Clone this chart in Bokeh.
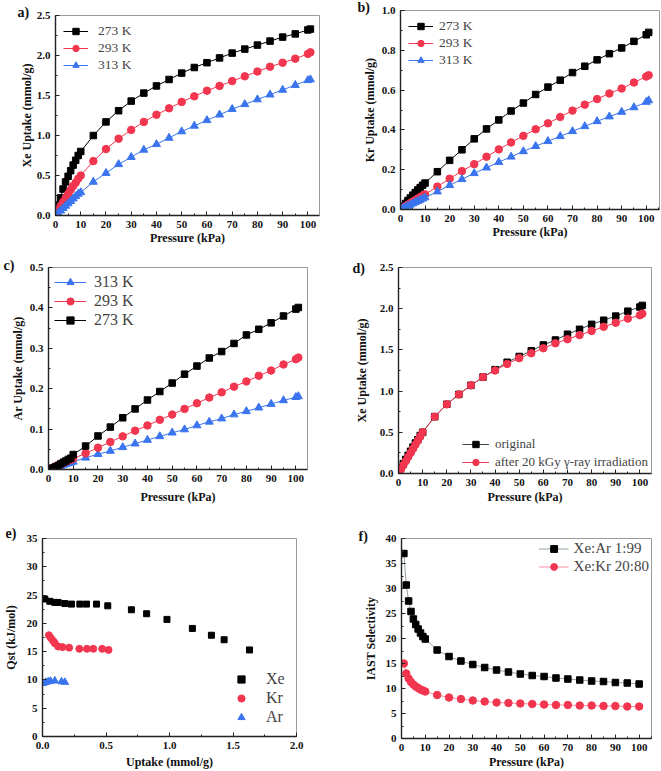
from bokeh.plotting import figure
from bokeh.models import (Range1d, SingleIntervalTicker, NumeralTickFormatter,
                          Legend, LegendItem)
from bokeh.layouts import column, row
from bokeh.embed import file_html
from bokeh.resources import INLINE

# ---------------- data ----------------
P = [0.2, 1, 2, 3, 4, 5, 6, 7, 8, 9, 10, 15, 20, 25, 30, 35, 40, 45, 50,
     55, 60, 65, 70, 75, 80, 85, 90, 95, 100, 101]

xe_273 = [0.05, 0.13, 0.22, 0.33, 0.42, 0.49, 0.56, 0.63, 0.69, 0.75, 0.80, 1.00, 1.17, 1.31,
          1.43, 1.53, 1.62, 1.70, 1.78, 1.85, 1.91, 1.97, 2.03, 2.08, 2.13, 2.18, 2.23, 2.27,
          2.32, 2.33]
xe_293 = [0.02, 0.07, 0.12, 0.17, 0.22, 0.27, 0.32, 0.37, 0.41, 0.46, 0.50, 0.68, 0.83, 0.96,
          1.07, 1.17, 1.26, 1.34, 1.42, 1.49, 1.56, 1.62, 1.68, 1.74, 1.80, 1.86, 1.91, 1.96,
          2.02, 2.04]
xe_313 = [0.01, 0.03, 0.06, 0.09, 0.12, 0.15, 0.18, 0.21, 0.24, 0.27, 0.29, 0.42, 0.53, 0.64,
          0.73, 0.82, 0.89, 0.97, 1.05, 1.12, 1.19, 1.26, 1.33, 1.39, 1.45, 1.51, 1.57, 1.63,
          1.69, 1.70]

kr_273 = [0.003, 0.015, 0.030, 0.045, 0.058, 0.072, 0.085, 0.098, 0.110, 0.122, 0.133, 0.190,
          0.247, 0.300, 0.355, 0.405, 0.450, 0.495, 0.535, 0.578, 0.615, 0.650, 0.688, 0.720,
          0.752, 0.783, 0.812, 0.845, 0.878, 0.890]
kr_293 = [0.002, 0.008, 0.016, 0.024, 0.032, 0.040, 0.047, 0.055, 0.062, 0.069, 0.076, 0.115,
          0.155, 0.193, 0.228, 0.265, 0.302, 0.337, 0.370, 0.403, 0.433, 0.465, 0.497, 0.527,
          0.555, 0.583, 0.608, 0.638, 0.668, 0.675]
kr_313 = [0.001, 0.006, 0.012, 0.018, 0.024, 0.030, 0.036, 0.042, 0.048, 0.054, 0.060, 0.090,
          0.122, 0.152, 0.182, 0.210, 0.238, 0.265, 0.292, 0.318, 0.343, 0.368, 0.393, 0.418,
          0.443, 0.467, 0.490, 0.513, 0.540, 0.548]

ar_273 = [0.001, 0.002, 0.004, 0.007, 0.010, 0.014, 0.018, 0.021, 0.025, 0.028, 0.037, 0.058,
          0.083, 0.105, 0.128, 0.150, 0.172, 0.193, 0.214, 0.236, 0.256, 0.276, 0.292, 0.312,
          0.333, 0.347, 0.363, 0.380, 0.397, 0.401]
ar_293 = [0.001, 0.003, 0.005, 0.008, 0.011, 0.014, 0.016, 0.019, 0.022, 0.024, 0.027, 0.040,
          0.054, 0.068, 0.082, 0.096, 0.109, 0.123, 0.136, 0.150, 0.164, 0.178, 0.191, 0.205,
          0.218, 0.232, 0.245, 0.260, 0.273, 0.277]
ar_313 = [0.000, 0.002, 0.004, 0.006, 0.008, 0.009, 0.011, 0.013, 0.015, 0.017, 0.019, 0.029,
          0.038, 0.046, 0.055, 0.064, 0.073, 0.082, 0.091, 0.099, 0.109, 0.118, 0.126, 0.136,
          0.144, 0.153, 0.162, 0.171, 0.179, 0.181]

xe_original = [0.02, 0.07, 0.12, 0.17, 0.22, 0.27, 0.32, 0.37, 0.41, 0.46, 0.50, 0.69, 0.84,
               0.96, 1.07, 1.17, 1.26, 1.35, 1.42, 1.49, 1.56, 1.62, 1.69, 1.75, 1.81, 1.86,
               1.91, 1.97, 2.02, 2.04]
xe_irradiated = [0.01, 0.05, 0.10, 0.15, 0.20, 0.25, 0.30, 0.35, 0.40, 0.45, 0.50, 0.69, 0.84,
                 0.96, 1.07, 1.17, 1.25, 1.33, 1.40, 1.46, 1.52, 1.58, 1.63, 1.68, 1.73, 1.78,
                 1.83, 1.88, 1.92, 1.94]

qst_xe_uptake = [0.018, 0.058, 0.097, 0.123, 0.176, 0.228, 0.294, 0.346, 0.425, 0.514, 0.70,
                 0.82, 0.98, 1.18, 1.33, 1.43, 1.63]
qst_xe = [24.3, 23.9, 23.7, 23.7, 23.5, 23.4, 23.4, 23.4, 23.4, 23.1, 22.4, 21.7, 20.7, 19.1,
          17.9, 17.1, 15.3]
qst_kr_uptake = [0.050, 0.066, 0.084, 0.097, 0.123, 0.157, 0.21, 0.29, 0.35, 0.40, 0.47, 0.52]
qst_kr = [17.9, 17.4, 16.9, 16.5, 15.9, 15.8, 15.7, 15.5, 15.5, 15.5, 15.5, 15.3]
qst_ar_uptake = [0.005, 0.026, 0.045, 0.063, 0.097, 0.150, 0.176]
qst_ar = [9.4, 9.6, 9.7, 9.8, 9.85, 9.7, 9.6]

P_iast = [1, 2, 3, 4, 5, 6, 7, 8, 9, 10, 15, 20, 25, 30, 35, 40, 45, 50, 55, 60, 65, 70, 75,
          80, 85, 90, 95, 100]
sel_xe_ar = [37.0, 30.7, 27.5, 25.4, 23.9, 22.8, 21.9, 21.1, 20.4, 19.9, 17.7, 16.4, 15.5, 14.8,
             14.2, 13.7, 13.3, 12.9, 12.6, 12.4, 12.1, 11.9, 11.7, 11.5, 11.4, 11.2, 11.1, 10.9]
sel_xe_kr = [15.0, 13.0, 12.0, 11.3, 10.8, 10.4, 10.1, 9.8, 9.6, 9.4, 8.7, 8.2, 7.9, 7.6, 7.4,
             7.2, 7.1, 7.0, 6.9, 6.8, 6.7, 6.7, 6.6, 6.6, 6.5, 6.5, 6.4, 6.4]

# ---------------- styling ----------------
SERIF = "Liberation Serif"
BLACK = "#000000"
RED = "#f2364f"
BLUE = "#3a74ee"


def make_panel(box, xr, yr, xint, yint, xfmt, yfmt, xlabel, ylabel, xls, yls, tag, tag_x,
               tag_standoff):
    fx0, fy0, fw, fh, fl, ft, frw, frh = box
    p = figure(frame_width=frw, frame_height=frh,
               x_range=Range1d(*xr), y_range=Range1d(*yr),
               output_backend="svg", toolbar_location=None, tools="",
               min_border_left=fl - fx0, min_border_right=fx0 + fw - fl - frw,
               min_border_top=ft - fy0, min_border_bottom=fy0 + fh - ft - frh)
    p.background_fill_color = "white"
    p.border_fill_color = "white"
    p.xgrid.grid_line_color = None
    p.ygrid.grid_line_color = None
    p.outline_line_color = "#9a9a9a"
    p.outline_line_width = 1
    p.xaxis.ticker = SingleIntervalTicker(interval=xint, num_minor_ticks=2)
    p.yaxis.ticker = SingleIntervalTicker(interval=yint, num_minor_ticks=2)
    p.xaxis.formatter = NumeralTickFormatter(format=xfmt)
    p.yaxis.formatter = NumeralTickFormatter(format=yfmt)
    p.xaxis.axis_label = xlabel
    p.yaxis.axis_label = ylabel
    for ax in (p.xaxis[0], p.yaxis[0]):
        ax.axis_line_color = "#222222"
        ax.axis_line_width = 1.4
        ax.major_tick_in = 4
        ax.major_tick_out = 0
        ax.minor_tick_in = 2
        ax.minor_tick_out = 0
        ax.major_tick_line_color = "#222222"
        ax.minor_tick_line_color = "#222222"
        ax.major_label_text_font = SERIF
        ax.major_label_text_font_style = "bold"
        ax.major_label_text_font_size = "11px"
        ax.major_label_text_color = "#111111"
        ax.major_label_standoff = 5
        ax.axis_label_text_font = SERIF
        ax.axis_label_text_font_style = "bold"
        ax.axis_label_text_font_size = "12px"
        ax.axis_label_text_color = "#111111"
    p.xaxis[0].axis_label_standoff = xls
    p.yaxis[0].axis_label_standoff = yls
    # panel tag as the figure title, shifted left of the frame
    p.title.text = tag
    p.title.align = "left"
    p.title.offset = tag_x - fl
    p.title.standoff = tag_standoff
    p.title.vertical_align = "bottom"
    p.title.text_font = SERIF
    p.title.text_font_style = "bold"
    p.title.text_font_size = "14px"
    p.title.text_color = "#111111"
    return p


def series(p, x, y, color, marker, size, line_color=None):
    l = p.line(x, y, line_color=line_color or color, line_width=1)
    s = p.scatter(x, y, marker=marker, size=size, fill_color=color, line_color=color)
    return [l, s]


def add_legend(p, items, location, font_size, glyph_width, label_height, spacing, margin,
               padding, standoff):
    lg = Legend(items=[LegendItem(label=t, renderers=r) for t, r in items],
                location=location, border_line_color=None, background_fill_alpha=0,
                label_text_font=SERIF, label_text_font_size=font_size,
                glyph_width=glyph_width, glyph_height=label_height,
                label_height=label_height, spacing=spacing, margin=margin,
                padding=padding, label_standoff=standoff)
    p.add_layout(lg)


# ---- a) ----
pa = make_panel((0, 0, 330, 250, 55, 15, 264, 200), (0, 104.6), (0, 2.5), 10, 0.5, "0", "0.0",
                "Pressure (kPa)", "Xe Uptake (mmol/g)", 0, 0, "a)", 17, -9)
ra1 = series(pa, P, xe_273, BLACK, "square", 6.5)
ra2 = series(pa, P, xe_293, RED, "circle", 7.5)
ra3 = series(pa, P, xe_313, BLUE, "triangle", 8)
add_legend(pa, [("273 K", ra1), ("293 K", ra2), ("313 K", ra3)], "top_left", "13.5px",
           25, 16, 1, 8, 4, 10)

# ---- b) ----
pb = make_panel((330, 0, 331, 250, 400, 10, 259, 199), (0, 105.4), (0, 1.0), 10, 0.2, "0", "0.0",
                "Pressure (kPa)", "Kr Uptake (mmol/g)", 0, 2, "b)", 357, -8)
rb1 = series(pb, P, kr_273, BLACK, "square", 6.5)
rb2 = series(pb, P, kr_293, RED, "circle", 7.5)
rb3 = series(pb, P, kr_313, BLUE, "triangle", 8)
add_legend(pb, [("273 K", rb1), ("293 K", rb2), ("313 K", rb3)], "top_left", "13.5px",
           25, 16, 1, 8, 4, 6)

# ---- c) ----
pc = make_panel((0, 250, 330, 255, 48, 267, 259, 202), (0, 104.7), (0, 0.5), 10, 0.1, "0", "0.0",
                "Pressure (kPa)", "Ar Uptake (mmol/g)", 5, 2, "c)", 3, -10)
rc3 = series(pc, P, ar_313, BLUE, "triangle", 8)
rc2 = series(pc, P, ar_293, RED, "circle", 7.5)
rc1 = series(pc, P, ar_273, BLACK, "square", 6.5)
add_legend(pc, [("313 K", rc3), ("293 K", rc2), ("273 K", rc1)], "top_left", "16px",
           32, 18, 1, 6, 4, 8)

# ---- d) ----
pd_ = make_panel((330, 250, 331, 255, 398, 267, 253, 206), (0, 104.8), (0, 2.5), 10, 0.5, "0",
                 "0.0", "Pressure (kPa)", "Xe Uptake (mmol/g)", 1, 8, "d)", 352, -16)
rd1 = series(pd_, P, xe_original, BLACK, "square", 6.5, line_color="#3c4a4a")
rd2 = series(pd_, P, xe_irradiated, RED, "circle", 7.5)
add_legend(pd_, [("original", rd1), ("after 20 kGy \u03b3-ray irradiation", rd2)],
           "bottom_right", "13px", 27, 16, 2, 3, 2, 6)

# ---- e) ----
pe = make_panel((0, 505, 330, 266, 39, 537, 254, 198), (0, 2.0), (0, 35), 0.5, 5, "0.0", "0",
                "Uptake (mmol/g)", "Qst (kJ/mol)", 3, 6, "e)", 2, -4)
re1 = pe.scatter(qst_xe_uptake, qst_xe, marker="square", size=6, color=BLACK)
re2 = pe.scatter(qst_kr_uptake, qst_kr, marker="circle", size=7, color=RED)
re3 = pe.scatter(qst_ar_uptake, qst_ar, marker="triangle", size=7.5, color=BLUE)
add_legend(pe, [("Xe", [re1]), ("Kr", [re2]), ("Ar", [re3])], "bottom_right", "16px",
           20, 18, 1, 10, 2, 15)

# ---- f) ----
pf = make_panel((330, 505, 331, 266, 398, 537, 250, 200), (0, 105.2), (0, 40), 10, 5, "0", "0",
                "Pressure (kPa)", "IAST Selectivity", 1, 5, "f)", 355, -10)
rf1 = series(pf, P_iast, sel_xe_ar, BLACK, "square", 6.5, line_color="#8fa3a3")
rf2 = series(pf, P_iast, sel_xe_kr, RED, "circle", 7.5, line_color="#ff8ea0")
add_legend(pf, [("Xe:Ar 1:99", rf1), ("Xe:Kr 20:80", rf2)], "top_right", "15px",
           30, 17, 1, 2, 3, 5)

# each figure wrapped in its own column so that neighbouring frames are not aligned
layout = column(row(column(pa), column(pb)),
                row(column(pc), column(pd_)),
                row(column(pe), column(pf)))

with open("out.html", "w") as f:
    f.write(file_html(layout, INLINE))
